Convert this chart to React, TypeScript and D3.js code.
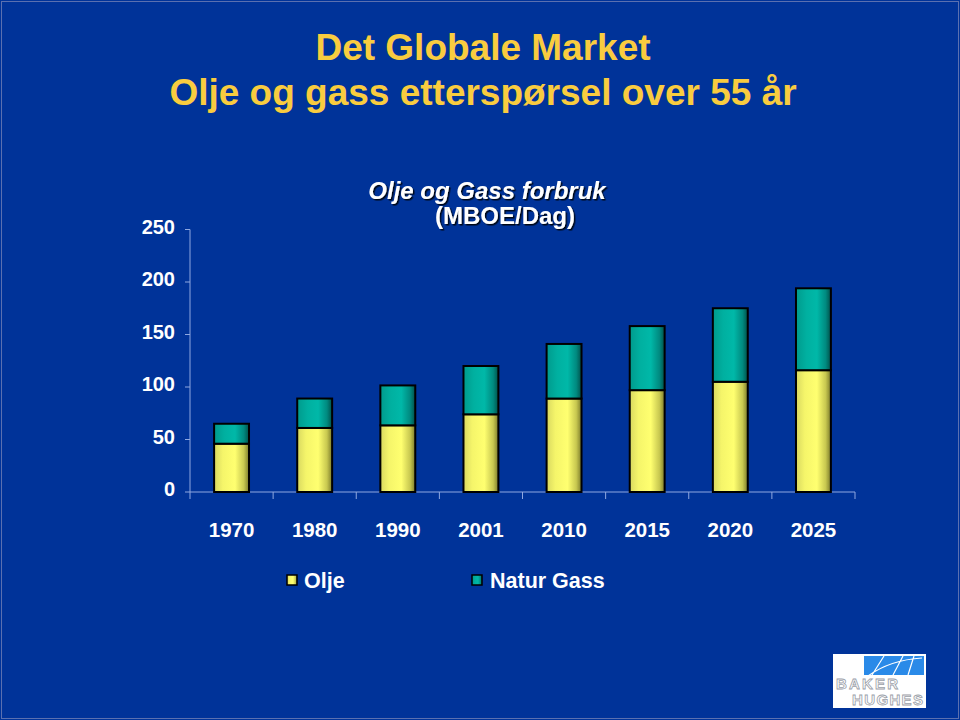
import React from "react";
import * as d3 from "d3";

const years = ["1970", "1980", "1990", "2001", "2010", "2015", "2020", "2025"];
const oil = [46, 61, 63.5, 74, 89, 97, 105, 116];
const gas = [19, 28, 38, 46, 52, 61, 70, 78];
const yTicks = [0, 50, 100, 150, 200, 250];
const seriesNames = ["Olje", "Natur Gass"];

const W = 960, H = 720;
const left = 190, right = 855, top = 229.5, bottom = 492;

export default function App() {
  const x = d3.scaleBand<string>().domain(years).range([left, right]).paddingInner(0.58).paddingOuter(0.29);
  const y = d3.scaleLinear().domain([0, 250]).range([bottom, top]);
  const stackData = years.map((yr, i) => ({ year: yr, oil: oil[i], gas: gas[i] }));
  const stack = d3.stack<any>().keys(["oil", "gas"])(stackData);
  const fills = ["url(#gOil)", "url(#gGas)"];
  const font = "Liberation Sans, Arial, sans-serif";
  const band = (right - left) / years.length;

  return (
    <div style={{ position: "absolute", left: 0, top: 0, width: W, height: H }}>
      <svg width={W} height={H} style={{ display: "block" }} fontFamily={font}>
        <defs>
          <linearGradient id="gOil" x1="0" x2="1" y1="0" y2="0">
            <stop offset="0" stopColor="#d8d860" />
            <stop offset="0.25" stopColor="#f5f56a" />
            <stop offset="0.6" stopColor="#ffff70" />
            <stop offset="0.85" stopColor="#c8c850" />
            <stop offset="1" stopColor="#7a7a2a" />
          </linearGradient>
          <linearGradient id="gGas" x1="0" x2="1" y1="0" y2="0">
            <stop offset="0" stopColor="#009a8c" />
            <stop offset="0.3" stopColor="#00b0a0" />
            <stop offset="0.6" stopColor="#00b8a8" />
            <stop offset="0.85" stopColor="#008a80" />
            <stop offset="1" stopColor="#00504a" />
          </linearGradient>
          <filter id="shadow" x="-10%" y="-20%" width="130%" height="160%">
            <feDropShadow dx="1.5" dy="1.5" stdDeviation="0.6" floodColor="#000000" floodOpacity="0.85" />
          </filter>
        </defs>
        <rect x={0} y={0} width={W} height={H} fill="#003399" />
        <rect x={1.5} y={1.5} width={W - 3} height={H - 3} fill="none" stroke="#5a70b0" strokeWidth={1} />

        <text x={483} y={60} textAnchor="middle" fill="#f9cc3f" fontWeight="bold" fontSize={37}>Det Globale Market</text>
        <text x={483} y={105} textAnchor="middle" fill="#f9cc3f" fontWeight="bold" fontSize={37}>Olje og gass etterspørsel over 55 år</text>

        <g filter="url(#shadow)">
          <text x={487} y={199} textAnchor="middle" fill="#ffffff" fontWeight="bold" fontStyle="italic" fontSize={24}>Olje og Gass forbruk</text>
          <text x={505} y={224} textAnchor="middle" fill="#ffffff" fontWeight="bold" fontSize={24}>(MBOE/Dag)</text>
        </g>

        {/* axes */}
        <line x1={left} x2={left} y1={top} y2={bottom} stroke="#8fa8e0" strokeWidth={1} />
        <line x1={left} x2={right} y1={bottom} y2={bottom} stroke="#8fa8e0" strokeWidth={1} />
        {yTicks.map((t) => (
          <g key={t}>
            <line x1={left - 5} x2={left} y1={y(t)} y2={y(t)} stroke="#8fa8e0" strokeWidth={1} />
            <text x={175} y={y(t) + 4} textAnchor="end" fill="#ffffff" fontWeight="bold" fontSize={20}>{t}</text>
          </g>
        ))}
        {d3.range(years.length + 1).map((i) => (
          <line key={i} x1={left + i * band} x2={left + i * band} y1={bottom} y2={bottom + 7} stroke="#8fa8e0" strokeWidth={1} />
        ))}
        {years.map((yr) => (
          <text key={yr} x={(x(yr) as number) + x.bandwidth() / 2} y={537} textAnchor="middle" fill="#ffffff" fontWeight="bold" fontSize={20.5}>{yr}</text>
        ))}

        {stack.map((s, si) => (
          <g key={si}>
            {s.map((d, i) => (
              <rect key={i} x={x(years[i]) as number} width={x.bandwidth()} y={y(d[1])} height={y(d[0]) - y(d[1])}
                fill={fills[si]} stroke="#000000" strokeWidth={2} />
            ))}
          </g>
        ))}

        {/* legend */}
        <rect x={287} y={575} width={10} height={10} fill={fills[0]} stroke="#000" strokeWidth={1.5} />
        <text x={304} y={588} fill="#ffffff" fontWeight="bold" fontSize={21.5}>{seriesNames[0]}</text>
        <rect x={472} y={575} width={10} height={10} fill={fills[1]} stroke="#000" strokeWidth={1.5} />
        <text x={490} y={588} fill="#ffffff" fontWeight="bold" fontSize={21.5}>{seriesNames[1]}</text>

        {/* logo */}
        <rect x={833} y={654} width={93} height={54} fill="#ffffff" />
        <rect x={864} y={656} width={60} height={19} fill="#2a8ae8" />
        <path d="M872,675 L884,656 M893,675 L903,656 M908,675 L914,656 M868,676 Q890,660 922,658" stroke="#ffffff" strokeWidth={1.2} fill="none" />
        <text x={836} y={689} fill="#ffffff" stroke="#9aa0a8" strokeWidth={0.8} fontWeight="bold" fontSize={15} textLength={62}>BAKER</text>
        <text x={852} y={705} fill="#ffffff" stroke="#9aa0a8" strokeWidth={0.8} fontWeight="bold" fontSize={15} textLength={71}>HUGHES</text>
      </svg>
    </div>
  );
}
